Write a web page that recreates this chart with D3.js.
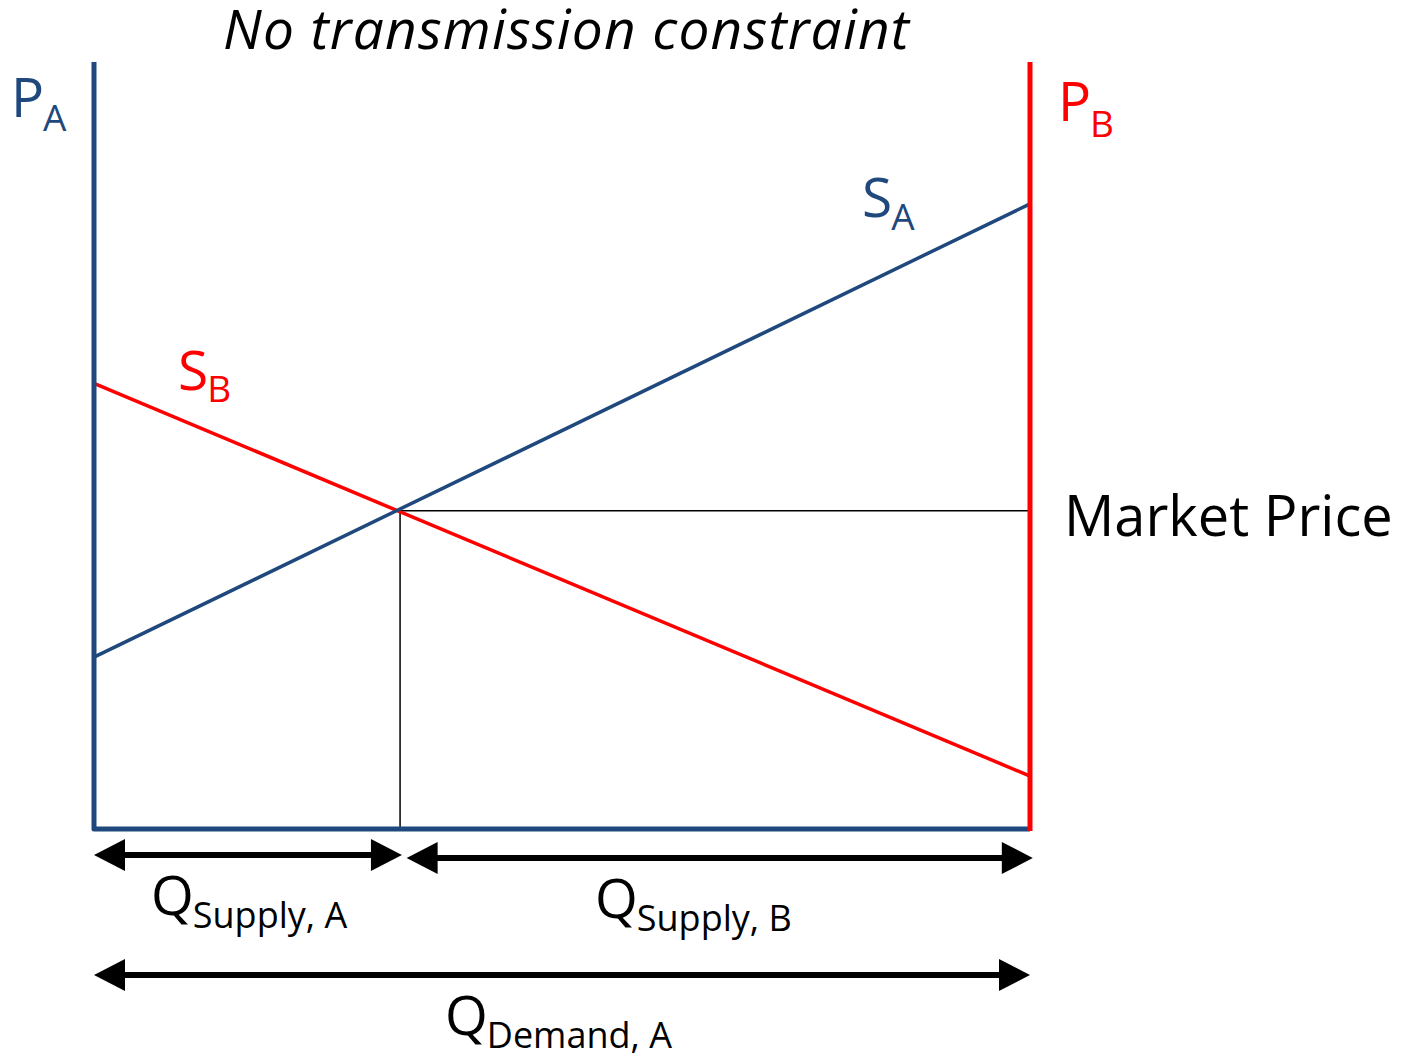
<!DOCTYPE html>
<html>
<head>
<meta charset="utf-8">
<script src="https://cdn.jsdelivr.net/npm/d3@7"></script>
<style>
  body { margin: 0; background: #fff; }
  text { font-family: "Open Sans", "Noto Sans", sans-serif; }
</style>
</head>
<body>
<div id="chart"></div>
<script>
// Chart size
const width = 1412;
const height = 1058;
const blue = "#1F497D";
const red = "#FF0000";

// Data (quantity 0-100 across, price 0-100 up)
const supplyA = [{ q: 0, p: 22.4 }, { q: 100, p: 81.5 }];
const supplyB = [{ q: 0, p: 58.1 }, { q: 100, p: 6.9 }];
const marketPrice = 41.5;
const qSupplyA = 32.7;

// arrows: from, to, label main, label sub
const arrows = [
  { from: 0, to: 32.9, row: 855, main: "Q", sub: "Supply, A", lx: 151 },
  { from: 33.4, to: 100.3, row: 858, main: "Q", sub: "Supply, B", lx: 595 },
  { from: 0, to: 100, row: 975, main: "Q", sub: "Demand, A", lx: 445 }
];

// Scales
const x = d3.scaleLinear().domain([0, 100]).range([94, 1030]);
const y = d3.scaleLinear().domain([0, 100]).range([829, 62]);

const svg = d3.select("#chart")
  .append("svg")
  .attr("width", width)
  .attr("height", height);

// Title
svg.append("text")
  .attr("x", 566)
  .attr("y", 49)
  .attr("text-anchor", "middle")
  .attr("font-size", 55)
  .attr("font-style", "italic")
  .attr("textLength", 686)
  .attr("lengthAdjust", "spacing")
  .text("No transmission constraint");

// helper for label with subscript
function label(xp, yp, main, sub, color, size, subSize, dy) {
  const t = svg.append("text")
    .attr("x", xp)
    .attr("y", yp)
    .attr("fill", color)
    .attr("font-size", size);
  t.append("tspan").text(main);
  t.append("tspan")
    .attr("font-size", subSize)
    .attr("dy", dy)
    .attr("dx", -1)
    .text(sub);
  return t;
}

const line = d3.line().x(d => x(d.q)).y(d => y(d.p));

// market price guide lines
svg.append("line")
  .attr("x1", x(qSupplyA)).attr("x2", x(100))
  .attr("y1", y(marketPrice)).attr("y2", y(marketPrice))
  .attr("stroke", "#000").attr("stroke-width", 1.5);
svg.append("line")
  .attr("x1", x(qSupplyA)).attr("x2", x(qSupplyA))
  .attr("y1", y(marketPrice)).attr("y2", y(0))
  .attr("stroke", "#000").attr("stroke-width", 1.5);

// supply curves
svg.append("path").datum(supplyB)
  .attr("d", line).attr("fill", "none")
  .attr("stroke", red).attr("stroke-width", 3.5);
svg.append("path").datum(supplyA)
  .attr("d", line).attr("fill", "none")
  .attr("stroke", blue).attr("stroke-width", 3.5);

// axes: left + bottom blue, right red
svg.append("path")
  .attr("d", `M${x(0)},${y(100)}L${x(0)},${y(0)}L${x(100)},${y(0)}`)
  .attr("fill", "none")
  .attr("stroke", blue)
  .attr("stroke-width", 5)
  .attr("stroke-linejoin", "round");
svg.append("line")
  .attr("x1", x(100)).attr("x2", x(100))
  .attr("y1", y(100)).attr("y2", y(0) + 2)
  .attr("stroke", red).attr("stroke-width", 5);

// axis and curve labels
label(11, 117, "P", "A", blue, 55, 37, 14);
label(1058, 121, "P", "B", red, 55, 37, 16);
label(862, 217, "S", "A", blue, 55, 37, 13);
label(178, 390, "S", "B", red, 55, 37, 12);

svg.append("text")
  .attr("x", 1064)
  .attr("y", 536)
  .attr("font-size", 56)
  .text("Market Price");

// quantity arrows
const headLen = 31, headHalf = 16;
arrows.forEach(a => {
  const x1 = x(a.from), x2 = x(a.to);
  svg.append("line")
    .attr("x1", x1 + headLen - 2).attr("x2", x2 - headLen + 2)
    .attr("y1", a.row).attr("y2", a.row)
    .attr("stroke", "#000").attr("stroke-width", 6);
  svg.append("path")
    .attr("d", `M${x1},${a.row}L${x1 + headLen},${a.row - headHalf}L${x1 + headLen},${a.row + headHalf}Z`)
    .attr("fill", "#000");
  svg.append("path")
    .attr("d", `M${x2},${a.row}L${x2 - headLen},${a.row - headHalf}L${x2 - headLen},${a.row + headHalf}Z`)
    .attr("fill", "#000");
  label(a.lx, a.row + 60, a.main, a.sub, "#000", 55, 36, 13);
});
</script>
</body>
</html>
